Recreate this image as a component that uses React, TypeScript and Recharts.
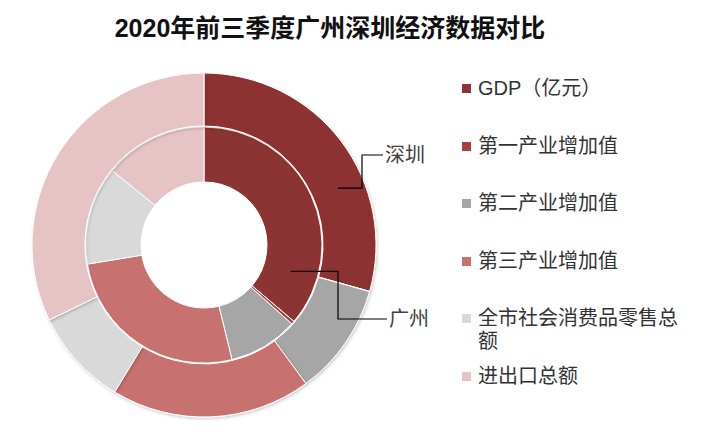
import { Cell, Legend, Pie, PieChart } from 'recharts';

const categories = [
  'GDP（亿元）',
  '第一产业增加值',
  '第二产业增加值',
  '第三产业增加值',
  '全市社会消费品零售总额',
  '进出口总额',
];
const shenzhen = [19690, 18, 7070, 12602, 6130, 21590];
const guangzhou = [17483, 215, 4604, 12664, 6483, 6835];
const colors = ['#8C3333', '#A84040', '#A6A6A6', '#C87171', '#D9D9D9', '#E6C3C4'];

const data = categories.map((name, i) => ({
  name,
  sz: shenzhen[i],
  gz: guangzhou[i],
}));

const FONT = '"Liberation Sans", "Noto Sans CJK SC", sans-serif';
const RAD = Math.PI / 180;

// callout for one ring: leader goes from inside the ring out to the city name
function callout(text: string, angle: number, elbowX: number, elbowY: number, endX: number) {
  return (props: any) => {
    if (props.index !== 0) return null;
    const { cx, cy, innerRadius, outerRadius } = props;
    const r = (innerRadius + outerRadius) / 2;
    const x0 = cx + r * Math.cos(angle * RAD);
    const y0 = cy - r * Math.sin(angle * RAD);
    const pts = `${x0},${y0} ${cx + elbowX},${y0} ${cx + elbowX},${cy + elbowY} ${cx + endX},${cy + elbowY}`;
    return (
      <g>
        <polyline points={pts} fill="none" stroke="#000" strokeWidth={1.2} />
        <text
          x={cx + endX + 2}
          y={cy + elbowY}
          dominantBaseline="central"
          fontSize={20}
          fill="#404040"
          fontFamily={FONT}
        >
          {text}
        </text>
      </g>
    );
  };
}

function LegendBox() {
  return (
    <div style={{ fontFamily: FONT, fontSize: 20, color: '#333', width: 230 }}>
      {categories.map((c, i) => (
        <div
          key={c}
          style={{ position: 'relative', paddingLeft: 16, height: 57.5, lineHeight: '23px' }}
        >
          <span
            style={{
              position: 'absolute',
              left: 0,
              top: 7,
              width: 9,
              height: 9,
              background: colors[i],
            }}
          />
          {c}
        </div>
      ))}
    </div>
  );
}

export default function App() {
  return (
    <div style={{ position: 'relative', width: 722, height: 432, background: '#fff' }}>
      <style>{'body{margin:0}'}</style>
      <div
        style={{
          position: 'absolute',
          top: 8,
          left: 0,
          width: 660,
          textAlign: 'center',
          fontFamily: FONT,
          fontWeight: 'bold',
          fontSize: 25,
          color: '#111',
        }}
      >
        2020年前三季度广州深圳经济数据对比
      </div>
      <PieChart width={722} height={432} margin={{ top: 0, right: 0, bottom: 0, left: 0 }}>
        <defs>
          <filter id="ringShadow" x="-10%" y="-10%" width="120%" height="120%">
            <feDropShadow dx="1" dy="1.5" stdDeviation="1.5" floodColor="#000" floodOpacity="0.2" />
          </filter>
        </defs>
        <Pie
          data={data}
          dataKey="gz"
          nameKey="name"
          cx={204}
          cy={245}
          innerRadius={63}
          outerRadius={118}
          startAngle={90}
          endAngle={-270}
          stroke="#fff"
          strokeWidth={1}
          isAnimationActive={false}
          labelLine={false}
          label={callout('广州', -17, 134, 74, 183)}
        >
          {data.map((d, i) => (
            <Cell key={d.name} fill={colors[i]} />
          ))}
        </Pie>
        <Pie
          data={data}
          dataKey="sz"
          nameKey="name"
          cx={204}
          cy={245}
          innerRadius={119}
          outerRadius={172}
          startAngle={90}
          endAngle={-270}
          stroke="#fff"
          strokeWidth={1}
          isAnimationActive={false}
          labelLine={false}
          label={callout('深圳', 23, 158, -90, 179)}
        >
          {data.map((d, i) => (
            <Cell key={d.name} fill={colors[i]} filter="url(#ringShadow)" />
          ))}
        </Pie>
        <Legend
          layout="vertical"
          content={() => <LegendBox />}
          wrapperStyle={{ position: 'absolute', left: 462, top: 77, width: 240 }}
        />
      </PieChart>
    </div>
  );
}
